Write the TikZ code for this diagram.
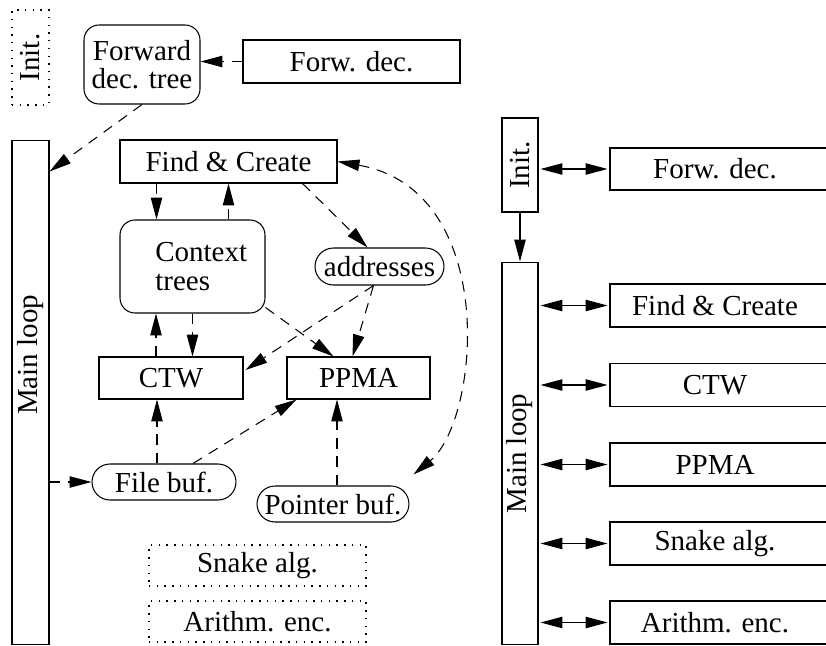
\documentclass[tikz,border=0pt]{standalone}
\usepackage{fontspec}
\setmainfont{Liberation Serif}
\usetikzlibrary{arrows.meta}
\usetikzlibrary{calc}
\tikzset{bx/.style={draw,rectangle,inner sep=0pt}}
\tikzset{rd/.style={draw,rectangle,rounded corners=0.3cm,inner sep=0pt,align=center}}
\tikzset{dt/.style={draw,rectangle,inner sep=0pt,dash pattern=on 0.8pt off 3.6pt}}
\tikzset{da/.style={dash pattern=on 6pt off 4.5pt}}
\tikzset{vl/.style={label={[rotate=90]center:#1}}}
\tikzset{ar/.style={-{Triangle[length=12.5pt,width=6.5pt]}}}
\tikzset{ab/.style={{Triangle[length=12.5pt,width=6.5pt]}-{Triangle[length=12.5pt,width=6.5pt]}}}

\begin{document}
\begin{tikzpicture}[x=0.02cm,y=-0.02cm,line width=0.6pt,font=\fontsize{16.5}{16}\selectfont]
  \useasboundingbox (0,0) rectangle (826,646);
  % left: data flow
  \node[dt,minimum width=0.74cm,minimum height=1.9cm,vl=Init.] (initL) at (30.5,57.5) {};
  \node[rd,minimum width=2.32cm,minimum height=1.58cm] (fdt) at (142,64.5) {Forward\\dec. tree};
  \node[bx,minimum width=4.34cm,minimum height=0.86cm] (fwd) at (351.5,61.5) {Forw. dec.};
  \node[bx,minimum width=0.74cm,minimum height=10.1cm] (mainL) at (30.5,392.5) {};
  \node[rotate=90] (mainLt) at (30.5,355) {Main loop};
  \node[bx,minimum width=4.34cm,minimum height=0.86cm] (fc) at (228.5,161.5) {Find \& Create};
  \node[rd,minimum width=2.9cm,minimum height=1.86cm,align=left] (ctx) at (192.5,266.5) {\hspace*{0.35cm}Context\\\hspace*{0.35cm}trees};
  \node[rd,rounded corners=0.37cm,minimum width=2.58cm,minimum height=0.74cm] (addr) at (379.5,266.5) {addresses};
  \node[bx,minimum width=2.88cm,minimum height=0.84cm] (ctw) at (171,378) {CTW};
  \node[bx,minimum width=2.86cm,minimum height=0.84cm] (ppma) at (358.5,378) {PPMA};
  \node[rd,rounded corners=0.36cm,minimum width=2.88cm,minimum height=0.72cm] (fbuf) at (164,482) {File buf.};
  \node[rd,rounded corners=0.36cm,minimum width=3.04cm,minimum height=0.72cm] (pbuf) at (333,504) {Pointer buf.};
  \node[dt,minimum width=4.34cm,minimum height=0.82cm] (snk) at (257.5,565.5) {Snake alg.};
  \node[dt,minimum width=4.34cm,minimum height=0.82cm] (ari) at (257.5,621.5) {Arithm. enc.};

  \draw[da,ar] (fwd.west) -- (fwd.west -| fdt.east);
  \draw[da,ar] (fdt.south) -- ($(mainL.north east)+(0,32)$);
  \draw[da,ar] ($(fc.south)+(-72,0)$) -- ($(ctx.north)+(-36,0)$);
  \draw[da,ar] ($(ctx.north)+(36,0)$) -- (fc.south);
  \draw[da,ar] ($(fc.south)+(74,0)$) -- ($(addr.north)+(-12,0)$);
  \draw[da,ar] ($(ctx.south east)+(0,-6)$) -- ($(ppma.north)+(-25,0)$);
  \draw[da,ar] ($(addr.south)+(-6,0)$) -- ($(ppma.north)+(-6,0)$);
  \draw[da,ar] ($(addr.south)+(-6,0)$) -- ($(ctw.east)+(2,-8)$);
  \draw[da,ar] ($(ctw.north)+(-15,0)$) -- ($(ctx.south)+(-36.5,0)$);
  \draw[da,ar] (ctx.south) -- ($(ctw.north)+(21.5,0)$);
  \draw[da,ar] ($(fbuf.north)+(-7,0)$) -- ($(ctw.south)+(-14,0)$);
  \draw[da,ar] ($(fbuf.north)+(29,0)$) -- ($(ppma.south west)+(10,0)$);
  \draw[da,ar] ($(pbuf.north)+(4,0)$) -- ($(ppma.south)+(-21.5,0)$);
  \draw[da,ab] (fc.east) .. controls (500,190) and (480,420) .. ($(pbuf.north east)+(4,-11)$);
  \draw[da,ar] (mainL.east |- fbuf.west) -- (fbuf.west);

  % right: call structure
  \node[bx,minimum width=0.72cm,minimum height=1.88cm,vl=Init.] (initR) at (520,165) {};
  \node[bx,minimum width=0.72cm,minimum height=7.66cm,vl=Main loop] (mainR) at (520,453.5) {};
  \node[bx,minimum width=4.6cm,minimum height=0.84cm] (fwdR) at (725,169) {\hspace*{-0.4cm}Forw. dec.};
  \node[bx,minimum width=4.6cm,minimum height=0.86cm] (fcR) at (725,305.5) {\hspace*{-0.4cm}Find \& Create};
  \node[bx,minimum width=4.6cm,minimum height=0.86cm] (ctwR) at (725,385) {\hspace*{-0.4cm}CTW};
  \node[bx,minimum width=4.6cm,minimum height=0.86cm] (ppmaR) at (725,464.5) {\hspace*{-0.4cm}PPMA};
  \node[bx,minimum width=4.6cm,minimum height=0.86cm] (snkR) at (725,543.5) {\hspace*{-0.4cm}Snake alg.};
  \node[bx,minimum width=4.6cm,minimum height=0.86cm] (ariR) at (725,622.5) {\hspace*{-0.4cm}Arithm. enc.};

  \draw[ab] ($(initR.east |- fwdR.west)+(2,0)$) -- ($(fwdR.west)+(-2,0)$);
  \draw[ar] (initR.south) -- (mainR.north);
  \foreach \b in {fcR,ctwR,ppmaR,snkR,ariR}
    \draw[ab] ($(mainR.east |- \b.west)+(2,0)$) -- ($(\b.west)+(-2,0)$);
\end{tikzpicture}
\end{document}
